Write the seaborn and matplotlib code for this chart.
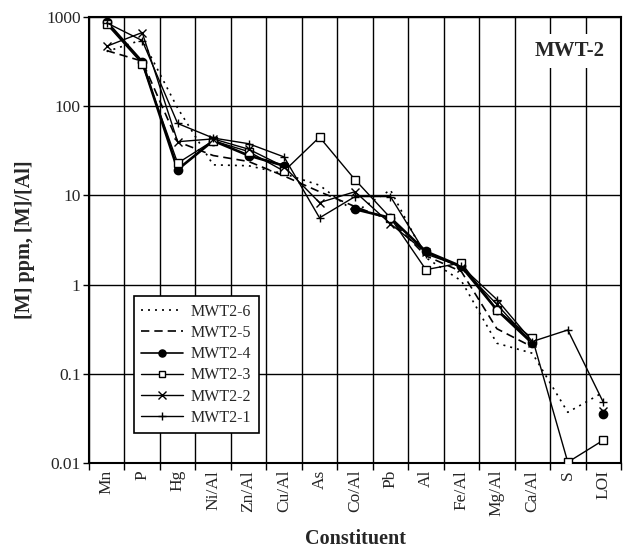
import numpy as np
import pandas as pd
import matplotlib
matplotlib.use("Agg")
import matplotlib.pyplot as plt
from matplotlib.lines import Line2D
from matplotlib.ticker import FixedLocator, FixedFormatter, NullLocator
import seaborn as sns

# categories along the x axis
constituents = ["Mn", "P", "Hg", "Ni/Al", "Zn/Al", "Cu/Al", "As", "Co/Al",
                "Pb", "Al", "Fe/Al", "Mg/Al", "Ca/Al", "S", "LOI"]

nan = np.nan
# values (ppm or ratio to Al), NaN = not plotted
mwt2_6 = [410, 555, 95, 22, 21.5, 17.5, 13, 6.5, 11.5, 2.0, 1.1, 0.22, 0.17, 0.037, 0.062]
mwt2_5 = [420, 320, 40, 28, 24, 16.5, 11, 7.5, 5.3, 2.1, 1.4, 0.32, 0.20, nan, nan]
mwt2_4 = [880, 315, 19.5, 41, 28, 21.5, nan, 7.0, 5.6, 2.35, 1.6, 0.52, 0.22, nan, 0.035]
mwt2_3 = [830, 300, 23, 41, 31, 18.7, 45, 15, 5.6, 1.47, 1.75, 0.52, 0.25, 0.0102, 0.018]
mwt2_2 = [470, 670, 40, 43, 33, 21, 8.3, 11, 4.8, 2.3, 1.55, 0.60, 0.22, nan, 0.038]
mwt2_1 = [860, 545, 64, 44, 38, 27, 5.6, 9.7, 9.7, 2.2, 1.6, 0.68, 0.23, 0.31, 0.048]

samples = {
    "MWT2-6": mwt2_6,
    "MWT2-5": mwt2_5,
    "MWT2-4": mwt2_4,
    "MWT2-3": mwt2_3,
    "MWT2-2": mwt2_2,
    "MWT2-1": mwt2_1,
}

styles = {
    "MWT2-6": dict(linestyle=(0, (1.2, 3.0)), lw=1.2, marker=None),
    "MWT2-5": dict(linestyle=(0, (5, 3)), lw=1.2, marker=None),
    "MWT2-4": dict(linestyle="-", lw=1.9, marker="o", ms=6, mfc="black", mew=1.0),
    "MWT2-3": dict(linestyle="-", lw=1.0, marker="s", ms=5.5, mfc="white", mew=1.0),
    "MWT2-2": dict(linestyle="-", lw=1.0, marker="x", ms=6, mfc="none", mew=1.0),
    "MWT2-1": dict(linestyle="-", lw=1.0, marker="+", ms=6, mfc="none", mew=1.0),
}

sns.set_style("white")
plt.rcParams["font.family"] = ["Liberation Serif", "DejaVu Serif"]

fig = plt.figure(figsize=(6.25, 5.56), dpi=100)
ax = fig.add_axes([0.1424, 0.1673, 0.8512, 0.8021])

handles = []
for name, vals in samples.items():
    df = pd.DataFrame({"x": np.arange(len(constituents)), "y": vals})
    st = styles[name]
    run_id = df["y"].isna().cumsum()
    good = df["y"].notna()
    # draw each unbroken run separately so gaps stay open
    for _, seg in df[good].groupby(run_id[good]):
        sns.lineplot(data=seg, x="x", y="y", ax=ax, color="black",
                     estimator=None, sort=False, legend=False,
                     linestyle=st["linestyle"], lw=st["lw"],
                     marker=st.get("marker"), ms=st.get("ms", 6),
                     mfc=st.get("mfc", "black"), mec="black",
                     mew=st.get("mew", 1.0), zorder=3)
    handles.append(Line2D([0], [0], color="black", linestyle=st["linestyle"],
                          lw=min(st["lw"], 1.2), marker=st.get("marker"),
                          ms=st.get("ms", 6) * 0.85, mfc=st.get("mfc", "black"),
                          mec="black", mew=st.get("mew", 1.0), label=name))

ax.set_yscale("log")
ax.set_ylim(0.01, 1000)
ax.set_xlim(-0.5, len(constituents) - 0.5)

yt = [0.01, 0.1, 1, 10, 100, 1000]
ax.yaxis.set_major_locator(FixedLocator(yt))
ax.yaxis.set_major_formatter(FixedFormatter(["0.01", "0.1", "1", "10", "100", "1000"]))
ax.yaxis.set_minor_locator(NullLocator())

ax.set_xticks(np.arange(len(constituents)))
ax.set_xticklabels(constituents, rotation=90)
ax.set_xticks(np.arange(-0.5, len(constituents), 1), minor=True)

ax.grid(False)
ax.grid(which="minor", axis="x", color="black", lw=1.0)
ax.grid(which="major", axis="y", color="black", lw=1.0)
ax.set_axisbelow(True)

ax.tick_params(axis="x", which="major", length=0, labelsize=12.5, pad=5)
ax.tick_params(axis="x", which="minor", length=5, width=1.0, color="black",
               direction="out", bottom=True)
ax.tick_params(axis="y", which="major", length=4, width=1.0, color="black",
               direction="out", left=True, labelsize=12.5, pad=2)

for sp in ax.spines.values():
    sp.set_color("black")
    sp.set_linewidth(1.5)

ax.set_xlabel("Constituent", fontsize=14.5, fontweight="bold", labelpad=9)
ax.set_ylabel("[M] ppm, [M]/[Al]", fontsize=14.5, fontweight="bold", labelpad=8)

ax.text(0.904, 0.924, "MWT-2", transform=ax.transAxes, ha="center", va="center",
        fontsize=15, fontweight="bold", zorder=4,
        bbox=dict(facecolor="white", edgecolor="none", pad=5))

leg = ax.legend(handles=handles, loc="lower left", bbox_to_anchor=(0.085, 0.067),
                borderaxespad=0, fontsize=11.5, frameon=True, fancybox=False,
                handlelength=2.6, labelspacing=0.33, borderpad=0.45,
                handletextpad=0.5)
leg.get_frame().set_edgecolor("black")
leg.get_frame().set_linewidth(1.2)
leg.get_frame().set_alpha(1)
leg.set_zorder(5)

fig.savefig("out.png", dpi=100)
